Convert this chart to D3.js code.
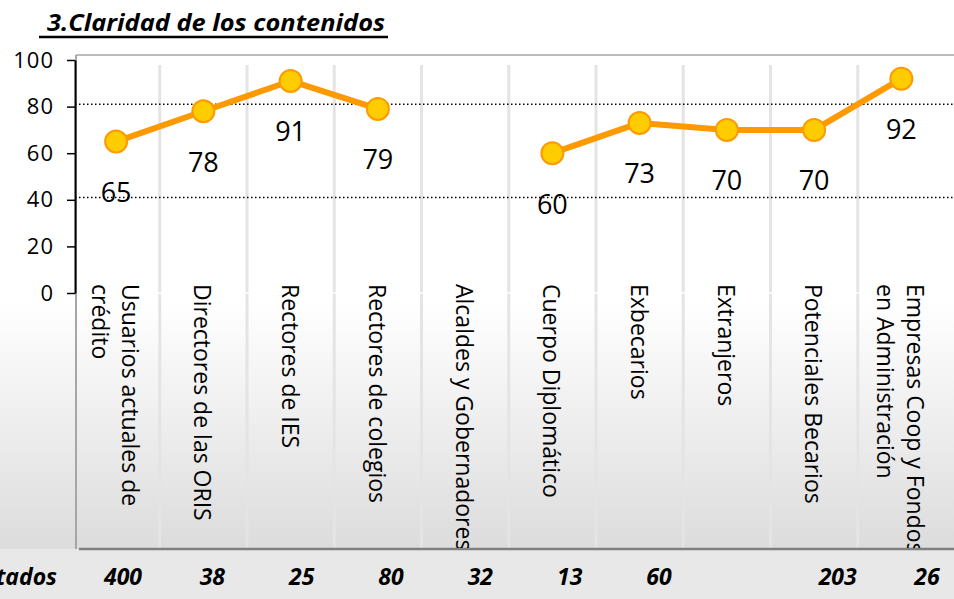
<!DOCTYPE html>
<html>
<head>
<meta charset="utf-8">
<script src="https://cdn.jsdelivr.net/npm/d3@7"></script>
<style>
  body { margin: 0; background: #fff; }
  svg { display: block; font-family: "Open Sans", sans-serif; }
</style>
</head>
<body>
<script>
// Chart data
var categories = [
  ["Usuarios actuales de", "crédito"],
  ["Directores de las ORIS"],
  ["Rectores de IES"],
  ["Rectores de colegios"],
  ["Alcaldes y Gobernadores"],
  ["Cuerpo Diplomático"],
  ["Exbecarios"],
  ["Extranjeros"],
  ["Potenciales Becarios"],
  ["Empresas Coop y Fondos", "en Administración"]
];
var values = [65, 78, 91, 79, null, 60, 73, 70, 70, 92];
var respondents = ["400", "38", "25", "80", "32", "13", "60", "", "203", "26"];
var yTicks = [0, 20, 40, 60, 80, 100];
var refLines = [81, 41];

var svgWidth = 954;
var svgHeight = 599;
var bottomY = 549;

var svg = d3.select("body")
  .append("svg")
  .attr("width", svgWidth)
  .attr("height", svgHeight);

// background gradient
var defs = svg.append("defs");
var grad = defs.append("linearGradient")
  .attr("id", "bg")
  .attr("gradientUnits", "userSpaceOnUse")
  .attr("x1", 0).attr("y1", 0).attr("x2", 0).attr("y2", bottomY);
grad.append("stop").attr("offset", 0).attr("stop-color", "#ffffff");
grad.append("stop").attr("offset", 0.55).attr("stop-color", "#ffffff");
grad.append("stop").attr("offset", 1).attr("stop-color", "#dcdcdc");

defs.append("clipPath").attr("id", "labclip")
  .append("rect").attr("x", 0).attr("y", 0).attr("width", svgWidth).attr("height", bottomY - 1);

svg.append("rect").attr("width", svgWidth).attr("height", bottomY).attr("fill", "url(#bg)");
svg.append("rect").attr("y", bottomY).attr("width", svgWidth).attr("height", svgHeight - bottomY).attr("fill", "#e8e8e8");

// scales
var x = d3.scaleBand().domain(d3.range(categories.length)).range([72.5, 945]);
var y = d3.scaleLinear().domain([0, 100]).range([293, 60]);
var tableX = d3.scalePoint().domain(d3.range(categories.length)).range([123, 927]);
var cx = function (i) { return x(i) + x.bandwidth() / 2; };

// vertical gridlines between categories
svg.append("g").selectAll("line")
  .data(d3.range(1, categories.length))
  .enter().append("line")
  .attr("x1", function (d) { return x(d); })
  .attr("x2", function (d) { return x(d); })
  .attr("y1", 65)
  .attr("y2", bottomY - 1)
  .attr("stroke", "#e4e4e4")
  .attr("stroke-width", 3);

svg.append("line")
  .attr("x1", 78).attr("x2", svgWidth)
  .attr("y1", y(0)).attr("y2", y(0))
  .attr("stroke", "#ffffff").attr("stroke-width", 1.5);

// plot frame
svg.append("line")
  .attr("x1", 76).attr("x2", svgWidth).attr("y1", 55).attr("y2", 55)
  .attr("stroke", "#a6a6a6").attr("stroke-width", 1.5);
svg.append("line")
  .attr("x1", 76).attr("x2", 76).attr("y1", 55).attr("y2", bottomY)
  .attr("stroke", "#a6a6a6").attr("stroke-width", 2);
svg.append("line")
  .attr("x1", 79).attr("x2", svgWidth).attr("y1", bottomY).attr("y2", bottomY)
  .attr("stroke", "#7f7f7f").attr("stroke-width", 2.5);

// y axis
var leftAxis = d3.axisLeft(y).tickValues(yTicks).tickSize(8).tickSizeOuter(0).tickPadding(13);
var yAxis = svg.append("g")
  .attr("transform", "translate(75,0)")
  .call(leftAxis);
yAxis.select(".domain").attr("stroke", "#000").attr("stroke-width", 2);
yAxis.selectAll(".tick line").attr("stroke", "#000").attr("stroke-width", 1.5);
yAxis.selectAll(".tick text")
  .attr("fill", "#000")
  .style("font-family", "'Open Sans', sans-serif")
  .style("font-size", "22px")
  .style("letter-spacing", "1px");

// dotted reference lines
svg.append("g").selectAll("line")
  .data(refLines)
  .enter().append("line")
  .attr("x1", 75).attr("x2", svgWidth)
  .attr("y1", function (d) { return y(d); })
  .attr("y2", function (d) { return y(d); })
  .attr("stroke", "#000")
  .attr("stroke-width", 1.5)
  .attr("stroke-dasharray", "1.5,2.5");

// series line
var line = d3.line()
  .defined(function (d) { return d != null; })
  .x(function (d, i) { return cx(i); })
  .y(function (d) { return y(d); });

svg.append("path")
  .datum(values)
  .attr("d", line)
  .attr("fill", "none")
  .attr("stroke", "#ff9900")
  .attr("stroke-width", 6)
  .attr("stroke-linejoin", "round");

var pts = values.map(function (v, i) { return { v: v, i: i }; })
  .filter(function (d) { return d.v != null; });

svg.append("g").selectAll("circle")
  .data(pts)
  .enter().append("circle")
  .attr("cx", function (d) { return cx(d.i); })
  .attr("cy", function (d) { return y(d.v); })
  .attr("r", 11)
  .attr("fill", "#ffcc00")
  .attr("stroke", "#ff9900")
  .attr("stroke-width", 2);

// data labels
svg.append("g").selectAll("text")
  .data(pts)
  .enter().append("text")
  .attr("x", function (d) { return cx(d.i); })
  .attr("y", function (d) { return y(d.v) + 50; })
  .attr("text-anchor", "middle")
  .attr("dominant-baseline", "central")
  .style("font-size", "27px")
  .attr("fill", "#000")
  .text(function (d) { return d.v; });

// category labels, rotated
var lineGap = 30;
var catG = svg.append("g").attr("clip-path", "url(#labclip)")
  .selectAll("g")
  .data(categories)
  .enter().append("g")
  .attr("transform", function (d, i) { return "translate(" + cx(i) + ",284) rotate(90)"; });

catG.append("text")
  .style("font-size", "23px")
  .attr("fill", "#000")
  .selectAll("tspan")
  .data(function (d) {
    return d.map(function (t, k) { return { t: t, k: k, n: d.length }; });
  })
  .enter().append("tspan")
  .attr("x", 0)
  .attr("y", function (d) { return -lineGap / 2 * (d.n - 1) + d.k * lineGap; })
  .attr("dominant-baseline", "central")
  .text(function (d) { return d.t; });

// respondents row
svg.append("text")
  .attr("x", 57)
  .attr("y", 576)
  .attr("text-anchor", "end")
  .attr("dominant-baseline", "central")
  .style("font-size", "23px")
  .style("font-weight", "bold")
  .style("font-style", "italic")
  .text("Encuestados");

svg.append("g").selectAll("text")
  .data(respondents)
  .enter().append("text")
  .attr("x", function (d, i) { return tableX(i); })
  .attr("y", 576)
  .attr("text-anchor", "middle")
  .attr("dominant-baseline", "central")
  .style("font-size", "23px")
  .style("font-weight", "bold")
  .style("font-style", "italic")
  .text(function (d) { return d; });

// title
svg.append("text")
  .attr("x", 47)
  .attr("y", 31)
  .attr("textLength", 338)
  .attr("lengthAdjust", "spacingAndGlyphs")
  .style("font-size", "23px")
  .style("font-weight", "bold")
  .style("font-style", "italic")
  .text("3.Claridad de los contenidos");

svg.append("line")
  .attr("x1", 39).attr("x2", 388)
  .attr("y1", 37).attr("y2", 37)
  .attr("stroke", "#000").attr("stroke-width", 2.5);
</script>
</body>
</html>
